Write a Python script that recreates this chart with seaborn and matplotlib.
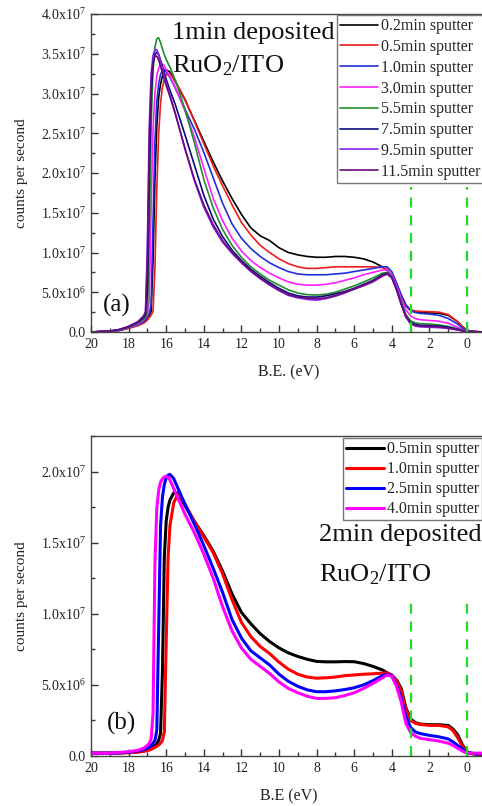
import matplotlib
matplotlib.use("Agg")
import matplotlib.pyplot as plt
from matplotlib.ticker import MultipleLocator
from matplotlib.lines import Line2D
import numpy as np
import pandas as pd
import seaborn as sns

# ---------------- panel (a): 1 min deposited RuO2/ITO ----------------
be_a = [20, 19, 18.5, 18, 17.5, 17.2, 17.1, 17.0, 16.9, 16.8, 16.7, 16.6, 16.5, 16.4,
        16.3, 16.2, 16.1, 16.0, 15.8, 15.5, 15.0, 14.5, 14.0, 13.5, 13.0, 12.5, 12.0,
        11.5, 11.0, 10.5, 10.0, 9.5, 9.0, 8.5, 8.0, 7.5, 7.0, 6.5, 6.0, 5.5, 5.0, 4.5,
        4.25, 4.0, 3.75, 3.5, 3.25, 3.0, 2.75, 2.5, 2.0, 1.5, 1.0, 0.5, 0.25, 0.0, -0.5, -1.0]

# counts per second, in units of 1e7
cps_a_02 = [0.00, 0.01, 0.02, 0.05, 0.09, 0.13, 0.15, 0.18, 0.21, 0.26, 0.9, 1.9, 2.6, 2.95,
            3.12, 3.22, 3.28, 3.30, 3.27, 3.14, 2.92, 2.66, 2.40, 2.14, 1.90, 1.68, 1.48,
            1.31, 1.21, 1.15, 1.06, 1.00, 0.97, 0.95, 0.94, 0.94, 0.95, 0.95, 0.94, 0.92, 0.88, 0.82,
            0.78, 0.70, 0.58, 0.45, 0.33, 0.27, 0.25, 0.245, 0.24, 0.235, 0.21, 0.13, 0.07, 0.02, 0.005, 0.0]
cps_a_05 = [0.00, 0.01, 0.02, 0.045, 0.08, 0.11, 0.13, 0.15, 0.18, 0.21, 0.26, 0.8, 1.8, 2.5,
            2.88, 3.08, 3.18, 3.24, 3.25, 3.15, 2.93, 2.65, 2.37, 2.09, 1.84, 1.60, 1.38,
            1.22, 1.09, 1.00, 0.92, 0.86, 0.82, 0.80, 0.80, 0.81, 0.82, 0.82, 0.82, 0.82, 0.82, 0.81,
            0.79, 0.72, 0.60, 0.46, 0.34, 0.28, 0.265, 0.26, 0.255, 0.25, 0.22, 0.13, 0.07, 0.02, 0.005, 0.0]
cps_a_10 = [0.00, 0.01, 0.02, 0.05, 0.09, 0.13, 0.16, 0.19, 0.23, 0.35, 1.4, 2.4, 2.9, 3.12,
            3.24, 3.29, 3.30, 3.27, 3.20, 3.06, 2.80, 2.55, 2.26, 1.94, 1.62, 1.36, 1.18,
            1.05, 0.95, 0.87, 0.81, 0.76, 0.73, 0.72, 0.72, 0.72, 0.73, 0.74, 0.76, 0.78, 0.80, 0.82,
            0.82, 0.76, 0.62, 0.47, 0.34, 0.27, 0.245, 0.235, 0.225, 0.21, 0.17, 0.10, 0.05, 0.015, 0.003, 0.0]
cps_a_30 = [0.00, 0.01, 0.025, 0.055, 0.10, 0.15, 0.18, 0.22, 0.4, 1.6, 2.55, 3.0, 3.22, 3.32,
            3.36, 3.37, 3.35, 3.30, 3.21, 3.07, 2.78, 2.45, 2.06, 1.68, 1.40, 1.18, 1.02,
            0.90, 0.81, 0.74, 0.68, 0.63, 0.60, 0.59, 0.59, 0.60, 0.62, 0.65, 0.68, 0.72, 0.75, 0.78,
            0.78, 0.72, 0.58, 0.42, 0.28, 0.20, 0.17, 0.155, 0.145, 0.135, 0.11, 0.06, 0.03, 0.01, 0.002, 0.0]
cps_a_55 = [0.00, 0.01, 0.025, 0.06, 0.11, 0.16, 0.19, 0.25, 1.2, 2.6, 3.3, 3.58, 3.69, 3.70,
            3.64, 3.56, 3.49, 3.43, 3.33, 3.16, 2.80, 2.38, 1.92, 1.56, 1.29, 1.09, 0.94,
            0.82, 0.73, 0.65, 0.59, 0.53, 0.49, 0.47, 0.465, 0.475, 0.50, 0.54, 0.58, 0.63, 0.68, 0.74,
            0.75, 0.70, 0.55, 0.38, 0.22, 0.14, 0.115, 0.105, 0.10, 0.09, 0.07, 0.04, 0.02, 0.008, 0.001, 0.0]
cps_a_75 = [0.00, 0.01, 0.03, 0.065, 0.12, 0.18, 0.22, 0.5, 2.0, 3.0, 3.36, 3.49, 3.52, 3.49,
            3.42, 3.34, 3.26, 3.18, 3.04, 2.85, 2.48, 2.10, 1.72, 1.42, 1.20, 1.03, 0.90,
            0.79, 0.70, 0.62, 0.55, 0.49, 0.455, 0.44, 0.44, 0.455, 0.48, 0.51, 0.55, 0.60, 0.65, 0.72,
            0.74, 0.69, 0.54, 0.36, 0.20, 0.12, 0.095, 0.085, 0.08, 0.075, 0.06, 0.035, 0.02, 0.008, 0.001, 0.0]
cps_a_95 = [0.00, 0.012, 0.03, 0.07, 0.13, 0.20, 0.26, 1.1, 2.6, 3.25, 3.48, 3.55, 3.55, 3.49,
            3.40, 3.31, 3.22, 3.13, 2.98, 2.74, 2.30, 1.90, 1.57, 1.32, 1.13, 0.99, 0.87,
            0.76, 0.67, 0.59, 0.52, 0.46, 0.43, 0.41, 0.40, 0.42, 0.45, 0.49, 0.54, 0.58, 0.63, 0.70,
            0.73, 0.69, 0.54, 0.35, 0.19, 0.10, 0.075, 0.065, 0.06, 0.055, 0.045, 0.025, 0.015, 0.005, 0.001, 0.0]
cps_a_115 = [0.00, 0.012, 0.03, 0.07, 0.13, 0.20, 0.25, 0.9, 2.4, 3.15, 3.40, 3.47, 3.47, 3.42,
             3.34, 3.26, 3.18, 3.10, 2.96, 2.73, 2.31, 1.92, 1.60, 1.35, 1.15, 1.00, 0.88,
             0.77, 0.68, 0.60, 0.53, 0.47, 0.44, 0.425, 0.42, 0.43, 0.46, 0.50, 0.54, 0.59, 0.64, 0.71,
             0.73, 0.68, 0.53, 0.35, 0.19, 0.11, 0.085, 0.075, 0.07, 0.065, 0.05, 0.03, 0.015, 0.005, 0.001, 0.0]

labels_a = ["0.2min sputter", "0.5min sputter", "1.0min sputter", "3.0min sputter",
            "5.5min sputter", "7.5min sputter", "9.5min sputter", "11.5min sputter"]
series_a = [cps_a_02, cps_a_05, cps_a_10, cps_a_30, cps_a_55, cps_a_75, cps_a_95, cps_a_115]
colors_a = ["#000000", "#ee1c1c", "#1f2fd8", "#ff20ff", "#1f8f2a", "#0a0a7a", "#8a20f0", "#6a0a78"]

# ---------------- panel (b): 2 min deposited RuO2/ITO ----------------
be_b = [20, 19, 18.5, 18, 17.5, 17.2, 17.0, 16.9, 16.8, 16.7, 16.6, 16.5, 16.4, 16.3, 16.2,
        16.1, 16.0, 15.9, 15.8, 15.6, 15.4, 15.2, 15.0, 14.5, 14.0, 13.5, 13.0, 12.5, 12.0,
        11.5, 11.0, 10.5, 10.0, 9.5, 9.0, 8.5, 8.0, 7.5, 7.0, 6.5, 6.0, 5.5, 5.0, 4.5, 4.25,
        4.0, 3.75, 3.5, 3.25, 3.0, 2.75, 2.5, 2.0, 1.5, 1.0, 0.75, 0.5, 0.25, 0.0, -0.5, -1.0]

cps_b_05 = [0.02, 0.02, 0.022, 0.025, 0.03, 0.037, 0.045, 0.05, 0.056, 0.063, 0.072, 0.085, 0.11, 0.16, 0.6,
            1.4, 1.65, 1.75, 1.80, 1.85, 1.85, 1.81, 1.76, 1.65, 1.55, 1.44, 1.30, 1.14, 1.01,
            0.93, 0.86, 0.805, 0.76, 0.725, 0.70, 0.68, 0.665, 0.662, 0.662, 0.664, 0.663, 0.65, 0.63, 0.605, 0.585,
            0.565, 0.535, 0.475, 0.34, 0.26, 0.235, 0.225, 0.22, 0.22, 0.215, 0.19, 0.15, 0.08, 0.025, 0.012, 0.01]
cps_b_10 = [0.02, 0.02, 0.021, 0.023, 0.027, 0.032, 0.038, 0.042, 0.047, 0.053, 0.06, 0.068, 0.078, 0.09, 0.11,
            0.17, 0.8, 1.4, 1.62, 1.78, 1.835, 1.82, 1.77, 1.65, 1.54, 1.43, 1.28, 1.10, 0.94,
            0.84, 0.77, 0.72, 0.66, 0.61, 0.575, 0.555, 0.547, 0.55, 0.555, 0.565, 0.57, 0.575, 0.578, 0.583, 0.585,
            0.57, 0.53, 0.46, 0.33, 0.25, 0.23, 0.222, 0.215, 0.215, 0.205, 0.18, 0.13, 0.07, 0.022, 0.012, 0.01]
cps_b_25 = [0.02, 0.02, 0.022, 0.027, 0.035, 0.045, 0.055, 0.065, 0.075, 0.09, 0.11, 0.18, 0.9, 1.62, 1.82,
            1.91, 1.955, 1.975, 1.98, 1.95, 1.89, 1.83, 1.77, 1.63, 1.48, 1.32, 1.15, 0.96, 0.83,
            0.74, 0.69, 0.64, 0.575, 0.525, 0.49, 0.465, 0.452, 0.452, 0.458, 0.467, 0.48, 0.50, 0.53, 0.565, 0.575,
            0.565, 0.50, 0.41, 0.28, 0.20, 0.17, 0.158, 0.145, 0.135, 0.12, 0.10, 0.075, 0.05, 0.025, 0.015, 0.015]
cps_b_40 = [0.02, 0.02, 0.025, 0.03, 0.04, 0.055, 0.075, 0.09, 0.12, 0.3, 1.35, 1.74, 1.87, 1.925, 1.95,
            1.962, 1.967, 1.96, 1.94, 1.88, 1.82, 1.76, 1.70, 1.57, 1.42, 1.25, 1.05, 0.88, 0.76,
            0.68, 0.63, 0.58, 0.52, 0.475, 0.445, 0.42, 0.405, 0.405, 0.41, 0.425, 0.445, 0.475, 0.51, 0.55, 0.57,
            0.56, 0.49, 0.38, 0.23, 0.165, 0.14, 0.125, 0.115, 0.105, 0.09, 0.075, 0.055, 0.035, 0.02, 0.02, 0.02]

labels_b = ["0.5min sputter", "1.0min sputter", "2.5min sputter", "4.0min sputter"]
series_b = [cps_b_05, cps_b_10, cps_b_25, cps_b_40]
colors_b = ["#000000", "#ff0000", "#0000ff", "#ff00ff"]

# axis tick labels
xticks = [20, 18, 16, 14, 12, 10, 8, 6, 4, 2, 0]
yticks_a = [0, 0.5e7, 1.0e7, 1.5e7, 2.0e7, 2.5e7, 3.0e7, 3.5e7, 4.0e7]
yticklabels_a = ["0.0", "5.0x10$^6$", "1.0x10$^7$", "1.5x10$^7$", "2.0x10$^7$",
                 "2.5x10$^7$", "3.0x10$^7$", "3.5x10$^7$", "4.0x10$^7$"]
yticks_b = [0, 0.5e7, 1.0e7, 1.5e7, 2.0e7]
yticklabels_b = ["0.0", "5.0x10$^6$", "1.0x10$^7$", "1.5x10$^7$", "2.0x10$^7$"]
fermi_lines = [3.0, 0.0]
SCALE = 1e7


def long_frame(be, series, labels):
    rows = []
    for lab, vals in zip(labels, series):
        rows.append(pd.DataFrame({"be": be, "cps": np.asarray(vals) * SCALE, "sample": lab}))
    return pd.concat(rows, ignore_index=True)


sns.set_theme(style="white")
plt.rcParams["font.family"] = ["Liberation Serif", "DejaVu Serif"]
plt.rcParams["mathtext.fontset"] = "custom"
plt.rcParams["mathtext.rm"] = "Liberation Serif"
plt.rcParams["mathtext.it"] = "Liberation Serif:italic"
plt.rcParams["mathtext.bf"] = "Liberation Serif:bold"

W, H = 482, 806
fig = plt.figure(figsize=(W / 100, H / 100), dpi=100)
fig.patch.set_facecolor("white")

ax_w = 394.8 / W
ax_a = fig.add_axes([91 / W, (H - 332) / H, ax_w, 318 / H])
ax_b = fig.add_axes([91 / W, (H - 756) / H, ax_w, 320 / H])


def style_axes(ax, ylim, yticks, yticklabels, xlabel):
    ax.set_xlim(20, -1.0)
    ax.set_ylim(*ylim)
    ax.set_xticks(xticks)
    ax.set_xticklabels([str(t) for t in xticks], fontsize=10)
    ax.xaxis.set_minor_locator(MultipleLocator(1))
    ax.set_yticks(yticks)
    ax.set_yticklabels(yticklabels, fontsize=10)
    ax.yaxis.set_minor_locator(MultipleLocator(0.25e7))
    ax.tick_params(which="both", direction="in", bottom=True, left=True, top=False, right=False,
                   colors="#333333", labelcolor="#222222")
    ax.tick_params(which="major", length=5, width=1.0, pad=4)
    ax.tick_params(which="minor", length=3, width=1.0)
    for side in ["top", "bottom", "left", "right"]:
        ax.spines[side].set_color("#444444")
        ax.spines[side].set_linewidth(1.0)
    ax.set_xlabel(xlabel, fontsize=11.5, color="#222222", labelpad=10)
    ax.set_ylabel("counts per second", fontsize=11, color="#222222", labelpad=9)
    ax.grid(False)


# ---- panel (a)
df_a = long_frame(be_a, series_a, labels_a)
sns.lineplot(data=df_a, x="be", y="cps", hue="sample", hue_order=labels_a,
             palette=dict(zip(labels_a, colors_a)), estimator=None, sort=False,
             linewidth=1.2, ax=ax_a, legend=False)
for e in fermi_lines:
    ax_a.axvline(e, ymin=0, ymax=0.455, color="#22dd22", lw=1.6, dashes=(4.5, 3.5))
style_axes(ax_a, (0, 4.0e7), yticks_a, yticklabels_a, "B.E. (eV)")
handles_a = [Line2D([0], [0], color=c, lw=1.2) for c in colors_a]
ax_a.legend(handles_a, labels_a, loc="upper left", bbox_to_anchor=(0.623, 0.997),
            borderaxespad=0, fontsize=11.5, frameon=True, fancybox=False, edgecolor="#777777",
            framealpha=1, borderpad=0.2, labelspacing=0.3, handlelength=2.4, handletextpad=0.15)
ax_a.text(15.69, 3.69e7, "1min deposited", fontsize=19, color="#111111", va="baseline", ha="left")
ax_a.text(15.69, 3.27e7, "RuO$_2$/ITO", fontsize=19, color="#111111", va="baseline", ha="left")
ax_a.text(19.36, 0.33e7, "(a)", fontsize=18, color="#111111", va="center", ha="left")

# ---- panel (b)
df_b = long_frame(be_b, series_b, labels_b)
sns.lineplot(data=df_b, x="be", y="cps", hue="sample", hue_order=labels_b,
             palette=dict(zip(labels_b, colors_b)), estimator=None, sort=False,
             linewidth=2.2, ax=ax_b, legend=False)
for e in fermi_lines:
    ax_b.axvline(e, ymin=0, ymax=0.49, color="#22dd22", lw=1.6, dashes=(4.5, 3.5))
style_axes(ax_b, (0, 2.25e7), yticks_b, yticklabels_b, "B.E (eV)")
handles_b = [Line2D([0], [0], color=c, lw=2.2) for c in colors_b]
ax_b.legend(handles_b, labels_b, loc="upper left", bbox_to_anchor=(0.638, 0.994),
            borderaxespad=0, fontsize=11.5, frameon=True, fancybox=False, edgecolor="#777777",
            framealpha=1, borderpad=0.2, labelspacing=0.25, handlelength=2.4, handletextpad=0.15)
ax_b.text(7.87, 1.51e7, "2min deposited", fontsize=19, color="#111111", va="baseline", ha="left")
ax_b.text(7.87, 1.227e7, "RuO$_2$/ITO", fontsize=19, color="#111111", va="baseline", ha="left")
ax_b.text(19.15, 0.232e7, "(b)", fontsize=18, color="#111111", va="center", ha="left")

fig.savefig("out.png", dpi=100, facecolor="white")
